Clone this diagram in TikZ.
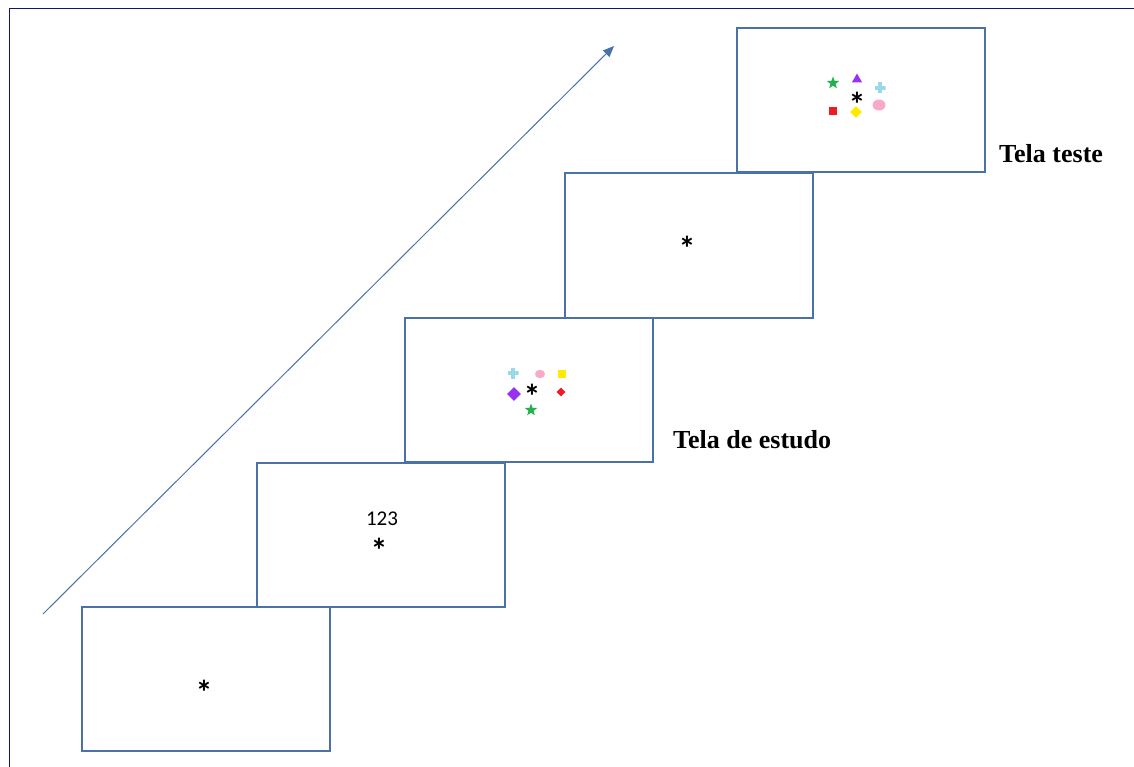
\documentclass[tikz,border=0pt]{standalone}
\usepackage{fontspec}
\setmainfont{Liberation Serif}
\newfontfamily\carlitofont{Carlito}
\usetikzlibrary{shapes.geometric,arrows.meta}
\definecolor{boxblue}{RGB}{74,114,168}
\definecolor{navy}{RGB}{20,20,120}
\definecolor{sgreen}{RGB}{34,177,76}
\definecolor{spurple}{RGB}{150,50,240}
\definecolor{sblue}{RGB}{153,217,234}
\definecolor{sred}{RGB}{237,28,36}
\definecolor{syellow}{RGB}{255,235,0}
\definecolor{spink}{RGB}{250,170,200}
\begin{document}
\begin{tikzpicture}[x=1pt,y=-1pt,
  screen/.style={draw=boxblue,line width=2pt,minimum width=248pt,minimum height=144pt,inner sep=0pt,outer sep=0pt},
  ast/.style={font=\carlitofont\bfseries\fontsize{34}{34}\selectfont,inner sep=0pt,yshift=-7pt},
  lbl/.style={font=\bfseries\fontsize{26}{26}\selectfont,anchor=west,inner sep=0pt},
  star5/.style={star,star points=5,star point ratio=2.4,fill=sgreen,minimum size=13pt,inner sep=0pt},
  tri/.style={regular polygon,regular polygon sides=3,fill=spurple,minimum size=12pt,inner sep=0pt},
  sq/.style={rectangle,fill=#1,minimum size=8.5pt,inner sep=0pt},
  dia/.style 2 args={diamond,fill=#1,minimum size=#2,inner sep=0pt},
  dot/.style={ellipse,fill=spink,minimum width=#1,minimum height=#1*0.85,inner sep=0pt},
  plus/.style={inner sep=0pt,minimum size=11pt,path picture={\fill[sblue] ([xshift=-5.5pt,yshift=-2pt]path picture bounding box.center) rectangle ([xshift=5.5pt,yshift=2pt]path picture bounding box.center);\fill[sblue] ([xshift=-2pt,yshift=-5.5pt]path picture bounding box.center) rectangle ([xshift=2pt,yshift=5.5pt]path picture bounding box.center);}}
]
\useasboundingbox (0,0) rectangle (1134,767);
% frame lines
\coordinate (fa) at (9,767);
\coordinate (fb) at (9,9);
\coordinate (fc) at (1134,9);
\draw[navy,line width=1pt] (fa) -- (fb) -- (fc);
% arrow
\coordinate (a0) at (43,614);
\coordinate (a1) at (614,46);
\draw[boxblue,line width=1pt,-{Triangle[length=11pt,width=9pt]}] (a0) -- (a1);
% screens
\node[screen] (s1) at (206,679) {};
\node[screen] (s2) at (380.5,534.5) {};
\node[screen] (s3) at (528.5,390) {};
\node[screen] (s4) at (689,245.5) {};
\node[screen] (s5) at (861,100.5) {};
% screen 1
\node[ast] (x1) at (204,685) {*};
% screen 2
\node[font=\carlitofont\fontsize{21}{21}\selectfont,inner sep=0pt] (n2) at (382,519) {123};
\node[ast] (x2) at (379,543) {*};
% screen 3
\node[ast] (x3) at (532,389) {*};
\node[plus] (p3) at (513,373) {};
\node[dot=10pt] (c3) at (540,374) {};
\node[sq=syellow] (q3) at (562,374) {};
\node[dia={spurple}{14pt}] (d3) at (514,394) {};
\node[dia={sred}{9pt}] (r3) at (561,392) {};
\node[star5] (g3) at (531,410) {};
% screen 4
\node[ast] (x4) at (687,241) {*};
% screen 5
\node[ast] (x5) at (857,97) {*};
\node[star5] (g5) at (833,83) {};
\node[tri] (t5) at (857,79.5) {};
\node[plus] (p5) at (880,88) {};
\node[sq=sred] (q5) at (833,111) {};
\node[dia={syellow}{12pt}] (y5) at (856,112) {};
\node[dot=13pt] (c5) at (879,105) {};
% labels
\node[lbl] (l5) at (999,154) {Tela teste};
\node[lbl] (l3) at (673,440) {Tela de estudo};
\end{tikzpicture}
\end{document}
